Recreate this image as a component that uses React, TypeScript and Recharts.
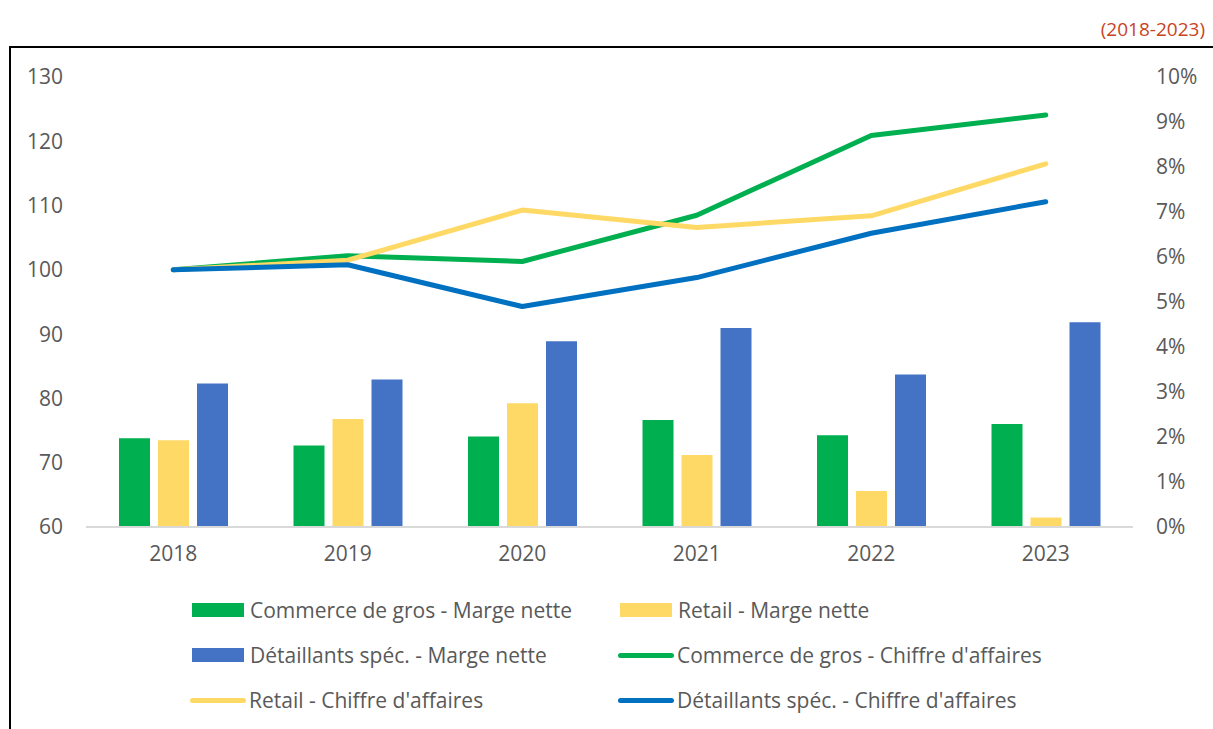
import React from 'react';
import { ComposedChart, Bar, Line, XAxis, YAxis } from 'recharts';

// années
const years = ['2018', '2019', '2020', '2021', '2022', '2023'];

// marge nette (%), axe de droite
const grosMarge = [1.97, 1.81, 2.01, 2.38, 2.04, 2.29];
const retailMarge = [1.93, 2.4, 2.75, 1.6, 0.8, 0.21];
const detailMarge = [3.19, 3.28, 4.13, 4.42, 3.39, 4.55];

// chiffre d'affaires (indice 2018 = 100), axe de gauche
const grosCA = [100, 102.2, 101.3, 108.5, 120.9, 124.1];
const retailCA = [100, 101.5, 109.3, 106.6, 108.4, 116.5];
const detailCA = [100, 100.8, 94.3, 98.8, 105.7, 110.6];

const leftTicks = [60, 70, 80, 90, 100, 110, 120, 130];
const rightTicks = [0, 1, 2, 3, 4, 5, 6, 7, 8, 9, 10];

const data = years.map((year, i) => ({
  year,
  grosMarge: grosMarge[i],
  retailMarge: retailMarge[i],
  detailMarge: detailMarge[i],
  grosCA: grosCA[i],
  retailCA: retailCA[i],
  detailCA: detailCA[i],
}));

const COLORS = {
  green: '#00B050',
  yellow: '#FFD966',
  barBlue: '#4472C4',
  lineBlue: '#0070C0',
  text: '#595959',
  red: '#C9431E',
};

const FONT = '"Open Sans", "Noto Sans", sans-serif';

const legendItems = [
  { label: 'Commerce de gros - Marge nette', color: COLORS.green, kind: 'bar' },
  { label: 'Retail - Marge nette', color: COLORS.yellow, kind: 'bar' },
  { label: 'Détaillants spéc. - Marge nette', color: COLORS.barBlue, kind: 'bar' },
  { label: "Commerce de gros - Chiffre d'affaires", color: COLORS.green, kind: 'line' },
  { label: "Retail - Chiffre d'affaires", color: COLORS.yellow, kind: 'line' },
  { label: "Détaillants spéc. - Chiffre d'affaires", color: COLORS.lineBlue, kind: 'line' },
];

const tickStyle = { fill: COLORS.text, fontSize: 21, fontFamily: FONT };

export default function App() {
  return (
    <div style={{ position: 'absolute', left: 0, top: 0, width: 1213, height: 729, overflow: 'hidden', background: '#fff', fontFamily: FONT }}>
      {/* cadre */}
      <div style={{ position: 'absolute', left: 9, top: 46, width: 1210, height: 700, borderTop: '2px solid #000', borderLeft: '2px solid #000' }} />
      <div style={{ position: 'absolute', right: 8, top: 16, color: COLORS.red, fontSize: 19 }}>(2018-2023)</div>

      <div style={{ position: 'absolute', left: 0, top: 0 }}>
        <ComposedChart
          width={1213}
          height={600}
          data={data}
          margin={{ top: 77, right: 0, left: 0, bottom: 33 }}
          barCategoryGap="19%"
          barGap={8}
        >
          <XAxis
            dataKey="year"
            tick={tickStyle}
            tickLine={false}
            tickSize={0}
            tickMargin={19}
            height={40}
            axisLine={{ stroke: '#D9D9D9', strokeWidth: 2 }}
          />
          <YAxis
            yAxisId="left"
            orientation="left"
            domain={[60, 130]}
            ticks={leftTicks}
            width={86}
            tick={tickStyle}
            tickLine={false}
            axisLine={false}
            tickSize={0}
            tickMargin={23}
            interval={0}
          />
          <YAxis
            yAxisId="right"
            orientation="right"
            domain={[0, 10]}
            ticks={rightTicks}
            width={80}
            tick={tickStyle}
            tickFormatter={(v: number) => `${v}%`}
            tickLine={false}
            axisLine={false}
            tickSize={0}
            tickMargin={23}
            interval={0}
          />
          <Bar yAxisId="right" dataKey="grosMarge" fill={COLORS.green} barSize={31} isAnimationActive={false} />
          <Bar yAxisId="right" dataKey="retailMarge" fill={COLORS.yellow} barSize={31} isAnimationActive={false} />
          <Bar yAxisId="right" dataKey="detailMarge" fill={COLORS.barBlue} barSize={31} isAnimationActive={false} />
          <Line yAxisId="left" dataKey="grosCA" stroke={COLORS.green} strokeWidth={5} dot={false} strokeLinecap="round" strokeLinejoin="round" isAnimationActive={false} />
          <Line yAxisId="left" dataKey="retailCA" stroke={COLORS.yellow} strokeWidth={5} dot={false} strokeLinecap="round" strokeLinejoin="round" isAnimationActive={false} />
          <Line yAxisId="left" dataKey="detailCA" stroke={COLORS.lineBlue} strokeWidth={5} dot={false} strokeLinecap="round" strokeLinejoin="round" isAnimationActive={false} />
        </ComposedChart>
      </div>

      {/* légende */}
      {legendItems.map((item, i) => {
        const col = i % 2;
        const row = Math.floor(i / 2);
        const left = col === 0 ? 190 : 618;
        const top = 597 + row * 45;
        return (
          <div key={item.label} style={{ position: 'absolute', left, top, height: 26, display: 'flex', alignItems: 'center', color: COLORS.text, fontSize: 21, whiteSpace: 'nowrap' }}>
            {item.kind === 'bar' ? (
              <span style={{ display: 'inline-block', width: 52, height: 14, background: item.color, marginLeft: 2, marginRight: 6 }} />
            ) : (
              <span style={{ display: 'inline-block', width: 56, height: 5, borderRadius: 3, background: item.color, marginRight: 3 }} />
            )}
            <span>{item.label}</span>
          </div>
        );
      })}
    </div>
  );
}
